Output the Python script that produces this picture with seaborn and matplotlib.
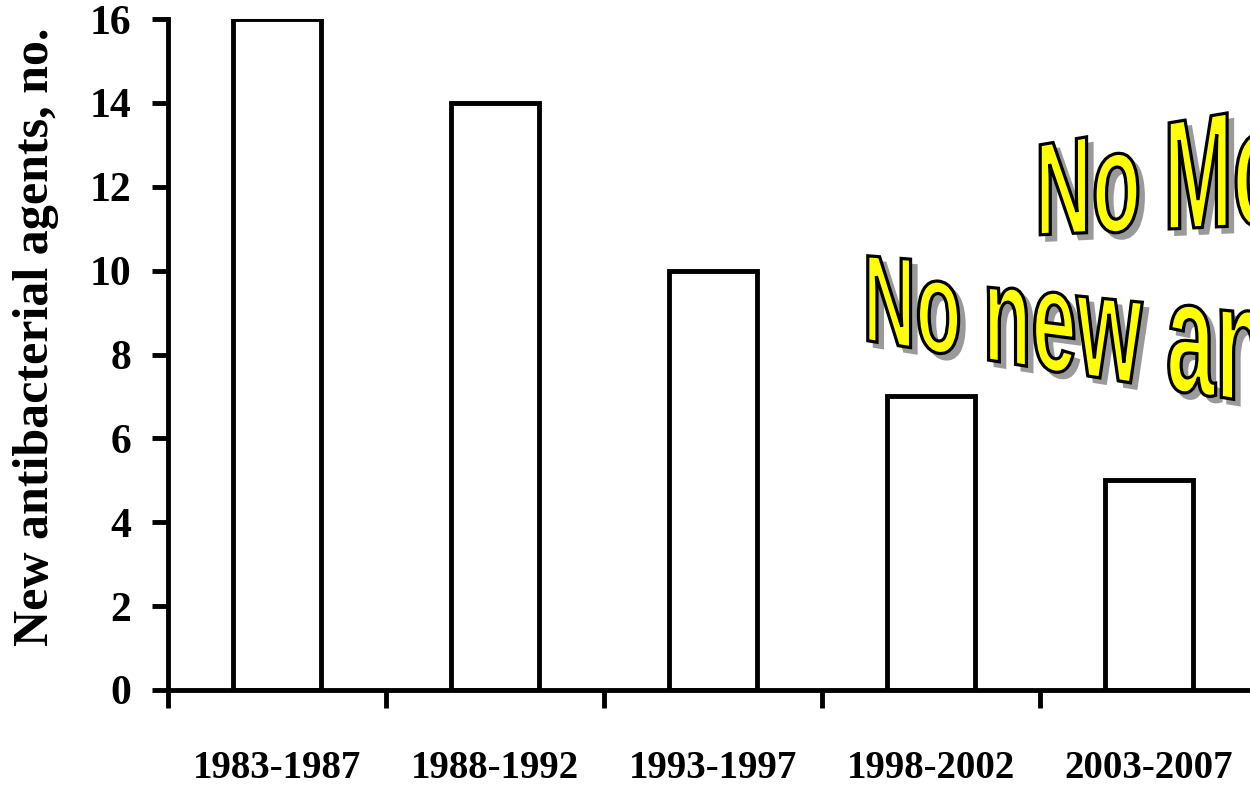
import numpy as np
import matplotlib
matplotlib.use('Agg')
import matplotlib.pyplot as plt
import seaborn as sns
from matplotlib.textpath import TextPath
from matplotlib.font_manager import FontProperties
from matplotlib.patches import PathPatch
from matplotlib.path import Path
from matplotlib.transforms import IdentityTransform

periods = ["1983-1987", "1988-1992", "1993-1997", "1998-2002", "2003-2007"]
new_agents = [16, 14, 10, 7, 5]
y_ticks = [0, 2, 4, 6, 8, 10, 12, 14, 16]
banner_lines = ["No Mo", "No new an"]

W, H = 1250, 789
sns.set_style("ticks")
plt.rcParams['font.family'] = ['Liberation Serif', 'DejaVu Serif']
plt.rcParams['font.weight'] = 'bold'
for key in ['text.color', 'axes.labelcolor', 'xtick.color', 'ytick.color',
            'axes.edgecolor']:
    plt.rcParams[key] = 'black'

fig = plt.figure(figsize=(W / 100, H / 100), dpi=100)
# axes runs past the right edge, like the cropped original
ax = fig.add_axes([168 / W, 99 / H, 1308 / W, 671 / H])

sns.barplot(x=periods, y=new_agents, color="white", saturation=1,
            edgecolor="black", linewidth=3.5, width=0.4, ax=ax)

ax.set_xlim(-0.5, 5.5)
ax.set_ylim(0, 16)
ax.set_yticks(y_ticks)
ax.tick_params(axis='y', direction='out', length=11.5, width=3.5, pad=15,
               labelsize=30, colors='black')
ax.tick_params(axis='x', which='major', length=0, pad=43, labelsize=28,
               colors='black')
ax.set_xticks(np.arange(-0.5, 6.0, 1.0), minor=True)
ax.tick_params(axis='x', which='minor', direction='out', length=13, width=3.5,
               color='black')
for lab in ax.get_xticklabels() + ax.get_yticklabels():
    lab.set_fontweight('bold')

ax.set_ylabel("New antibacterial agents, no.", fontsize=36, fontweight='bold',
              color='black')
ax.yaxis.set_label_coords(-0.083, 0.526)
ax.set_xlabel("")

for side in ['top', 'right']:
    ax.spines[side].set_visible(False)
for side in ['left', 'bottom']:
    ax.spines[side].set_linewidth(3.5)
    ax.spines[side].set_color('black')


def warped_text(s, x0, b0, cap0, bslope, hslope, sx, grow):
    # word-art style text: letters get taller/wider and the baseline tilts
    cap = 0.716
    tp = TextPath((0, 0), s, size=1, prop=FontProperties(family='Liberation Sans'))
    v = tp.vertices.copy()
    u_px = v[:, 0] * (cap0 / cap) * sx
    u_px = u_px * (1 + grow * u_px)
    h = cap0 + hslope * u_px
    X = x0 + u_px
    Y_img = b0 + bslope * u_px - v[:, 1] * (h / cap)
    return Path(np.column_stack([X, H - Y_img]), tp.codes)


banner = [
    (banner_lines[0], 1035, 235, 93, -0.045, 0.13, 0.60, 0.0002),
    (banner_lines[1], 863, 340, 88, 0.16, 0.085, 0.58, 0.00040),
]
for s, x0, b0, cap0, bs, hs, sx, g in banner:
    p = warped_text(s, x0, b0, cap0, bs, hs, sx, g)
    shadow = Path(p.vertices + np.array([6, -6]), p.codes)
    fig.add_artist(PathPatch(shadow, facecolor='#9a9a9a', edgecolor='#9a9a9a',
                             lw=1.5, transform=IdentityTransform()))
    fig.add_artist(PathPatch(p, facecolor='#ffff00', edgecolor='black',
                             lw=2.3, transform=IdentityTransform()))

fig.savefig("out.png", dpi=100)
